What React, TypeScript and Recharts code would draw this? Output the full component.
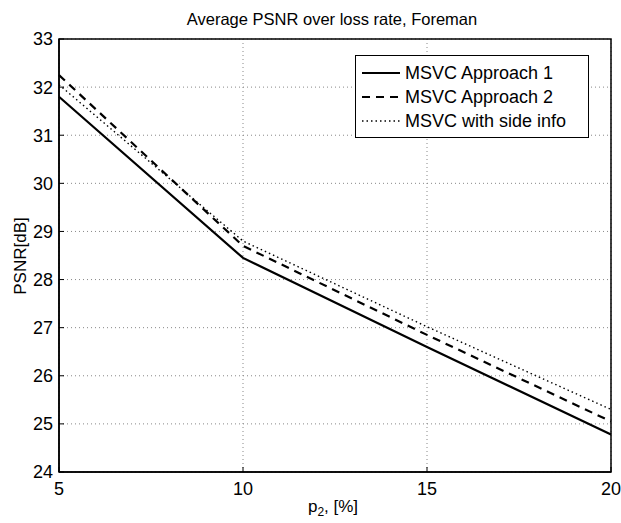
import { LineChart, Line, XAxis, YAxis, CartesianGrid, Legend, ReferenceArea } from 'recharts';

const lossRates = [5, 10, 15, 20];
const approach1 = [31.8, 28.45, 26.6, 24.78];
const approach2 = [32.25, 28.7, 26.85, 25.05];
const sideInfo = [32.05, 28.8, 27.02, 25.3];
const xTicks = [5, 10, 15, 20];
const yTicks = [24, 25, 26, 27, 28, 29, 30, 31, 32, 33];

const SERIES = [
  { key: 'a1', name: 'MSVC Approach 1', dash: undefined, width: 2.2 },
  { key: 'a2', name: 'MSVC Approach 2', dash: '8 6', width: 2.2 },
  { key: 'side', name: 'MSVC with side info', dash: '1.5 3', width: 1.4 },
];

const data = lossRates.map((p, i) => ({ p, a1: approach1[i], a2: approach2[i], side: sideInfo[i] }));

const FONT = '"Liberation Sans", Arial, Helvetica, sans-serif';

function LegendBox() {
  return (
    <div
      style={{
        border: '1.5px solid #000',
        background: '#fff',
        width: 232,
        padding: '5px 0 4px 0',
        fontFamily: FONT,
        fontSize: 18,
        color: '#000',
      }}
    >
      {SERIES.map((s) => (
        <div key={s.key} style={{ display: 'flex', alignItems: 'center', height: 24 }}>
          <svg width={43} height={10} style={{ marginLeft: 6 }}>
            <line x1={0} y1={5} x2={38} y2={5} stroke="#000" strokeWidth={s.width} strokeDasharray={s.dash} />
          </svg>
          <span>{s.name}</span>
        </div>
      ))}
    </div>
  );
}

const tickStyle = { fill: '#000', fontSize: 18, fontFamily: FONT };
const blank = () => '';

export default function App() {
  return (
    <div style={{ position: 'absolute', left: 0, top: 0, width: 621, height: 523, background: '#fff', fontFamily: FONT }}>
      <div style={{ position: 'absolute', top: 10, left: 52, width: 560, textAlign: 'center', fontSize: 16.5 }}>
        Average PSNR over loss rate, Foreman
      </div>
      <div
        style={{
          position: 'absolute',
          left: 21,
          top: 256,
          transform: 'translate(-50%, -50%) rotate(-90deg)',
          fontSize: 17,
          whiteSpace: 'nowrap',
        }}
      >
        PSNR[dB]
      </div>
      <div style={{ position: 'absolute', top: 497, left: 52, width: 562, textAlign: 'center', fontSize: 17 }}>
        p<sub style={{ fontSize: 12 }}>2</sub>, [%]
      </div>
      <LineChart width={621} height={523} data={data} margin={{ top: 39, right: 10, left: 19, bottom: 20 }}>
        <CartesianGrid stroke="#888" strokeDasharray="1 3" />
        <XAxis
          dataKey="p"
          type="number"
          domain={[5, 20]}
          ticks={xTicks}
          tick={tickStyle}
          tickLine={{ stroke: '#000' }}
          tickSize={-5}
          tickMargin={15}
          axisLine={{ stroke: '#000', strokeWidth: 1.5 }}
          height={31}
        />
        <XAxis
          xAxisId="top"
          orientation="top"
          dataKey="p"
          type="number"
          domain={[5, 20]}
          ticks={xTicks}
          tickFormatter={blank}
          tickLine={{ stroke: '#000' }}
          tickSize={-5}
          axisLine={false}
          height={0}
        />
        <YAxis
          type="number"
          domain={[24, 33]}
          ticks={yTicks}
          tick={tickStyle}
          tickLine={{ stroke: '#000' }}
          tickSize={-5}
          tickMargin={11}
          axisLine={{ stroke: '#000', strokeWidth: 1.5 }}
          width={40}
        />
        <YAxis
          yAxisId="right"
          orientation="right"
          type="number"
          domain={[24, 33]}
          ticks={yTicks}
          tickFormatter={blank}
          tickLine={{ stroke: '#000' }}
          tickSize={-5}
          axisLine={false}
          width={0}
        />
        <ReferenceArea x1={5} x2={20} y1={24} y2={33} fill="none" stroke="#000" strokeWidth={1.5} />
        {SERIES.map((s) => (
          <Line
            key={s.key}
            type="linear"
            dataKey={s.key}
            name={s.name}
            stroke="#000"
            strokeWidth={s.width}
            strokeDasharray={s.dash}
            dot={false}
            isAnimationActive={false}
          />
        ))}
        <Legend
          layout="vertical"
          verticalAlign="middle"
          align="center"
          wrapperStyle={{ top: 55, left: 355, width: 236 }}
          content={() => <LegendBox />}
        />
      </LineChart>
    </div>
  );
}
